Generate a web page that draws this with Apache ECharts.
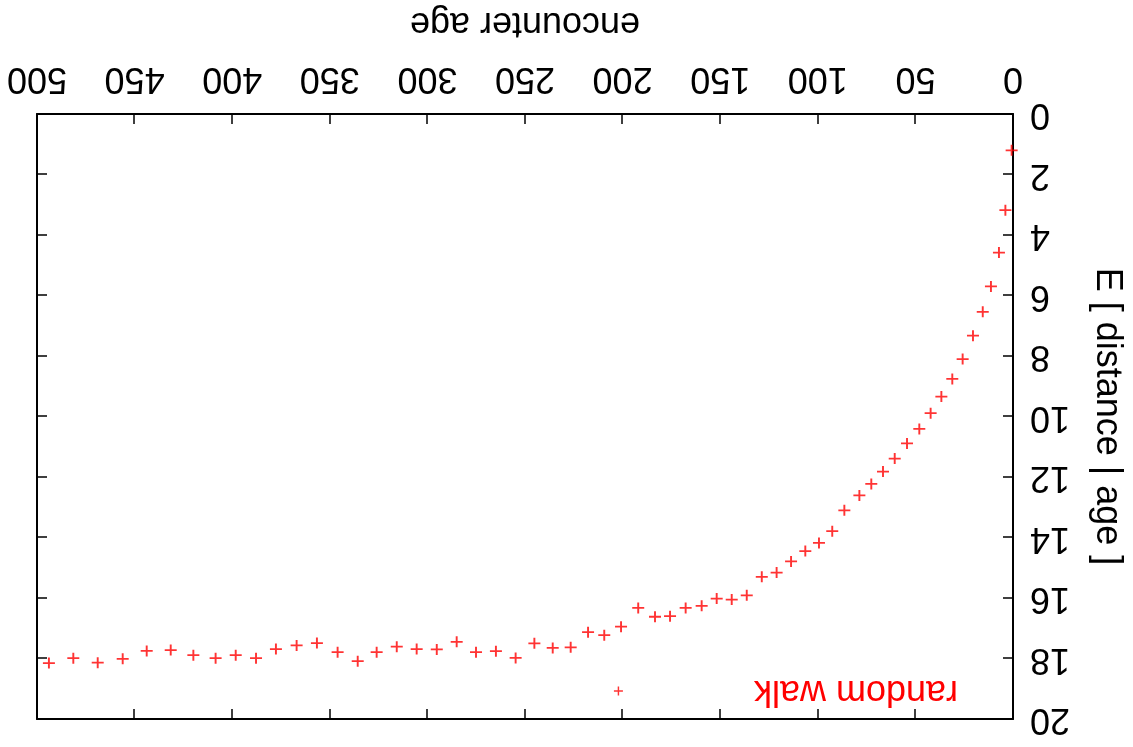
<!DOCTYPE html>
<html>
<head>
<meta charset="utf-8">
<title>random walk</title>
<script src="https://cdn.jsdelivr.net/npm/echarts@6.0.0/dist/echarts.min.js"></script>
<style>
html, body { margin: 0; padding: 0; background: #fff; }
/* the reference picture is upside down, so the whole chart is turned round */
#main { width: 1133px; height: 747px; transform: rotate(180deg); }
</style>
</head>
<body>
<div id="main"></div>
<script>
// encounter age (x) and E[distance | age] (y)
var encounterAge = [0.7, 3.9, 7.2, 11.3, 15.5, 20.5, 25.8, 31.1, 36.7, 42.2,
	48.0, 54.3, 60.6, 66.6, 72.6, 78.7, 86.4, 92.6, 99.4, 106.4,
	113.7, 121.1, 128.7, 136.4, 144.1, 151.8, 159.5, 167.7, 175.7, 183.4,
	192.0, 200.8, 209.4, 217.7, 226.6, 235.8, 245.2, 254.8, 264.9, 275.1,
	285.0, 295.2, 305.5, 315.7, 326.0, 335.7, 346.0, 356.6, 367.0, 377.6,
	387.8, 398.2, 408.5, 419.9, 431.5, 443.8, 456.1, 468.9, 481.4, 493.9];
var meanDistance = [1.20, 3.18, 4.58, 5.70, 6.54, 7.33, 8.10, 8.76, 9.34, 9.89,
	10.41, 10.89, 11.39, 11.82, 12.23, 12.61, 13.10, 13.79, 14.18, 14.45,
	14.79, 15.16, 15.30, 15.91, 16.05, 16.02, 16.26, 16.33, 16.60, 16.62,
	16.33, 16.95, 17.23, 17.13, 17.63, 17.65, 17.50, 17.98, 17.76, 17.79,
	17.45, 17.70, 17.69, 17.61, 17.79, 18.09, 17.79, 17.49, 17.57, 17.69,
	17.99, 17.89, 17.99, 17.89, 17.72, 17.75, 18.01, 18.14, 17.99, 18.15];

var seriesName = 'random walk';
var xRange = [0, 500];
var yRange = [0, 20];

var plusPath = 'path://M0,4.2H10V5.8H0Z M4.2,0H5.8V10H4.2Z';
var fontName = 'Liberation Sans';

var dom = document.getElementById('main');
var myChart = echarts.init(dom);

var points = encounterAge.map(function (a, i) {
	return [a, meanDistance[i]];
});

function frameAxis(pos, range, step, showLabel) {
	return {
		type: 'value',
		position: pos,
		min: range[0],
		max: range[1],
		interval: step,
		axisLine: { show: true, onZero: false, lineStyle: { color: '#000', width: 2 } },
		axisTick: { show: true, inside: true, length: 10, lineStyle: { color: '#000', width: 1.5 } },
		axisLabel: { show: showLabel, color: '#000', fontSize: 36, fontFamily: fontName },
		splitLine: { show: false }
	};
}

var xMain = frameAxis('bottom', xRange, 50, true);
xMain.axisLabel.margin = 18;
xMain.name = 'encounter age';
xMain.nameLocation = 'middle';
xMain.nameGap = 73;
xMain.nameTextStyle = { color: '#000', fontSize: 36, fontFamily: fontName };

var yMain = frameAxis('left', yRange, 2, true);
yMain.axisLabel.margin = 17;
yMain.name = 'E [ distance | age ]';
yMain.nameLocation = 'middle';
yMain.nameGap = 76;
yMain.nameTextStyle = { color: '#000', fontSize: 36, fontFamily: fontName };

option = {
	animation: false,
	backgroundColor: '#fff',
	grid: { left: 120, right: 37, top: 28, bottom: 113 },
	legend: {
		data: [seriesName],
		left: 175,
		top: 38,
		padding: 0,
		align: 'right',
		icon: plusPath,
		itemWidth: 9,
		itemHeight: 9,
		textStyle: { color: '#ff0000', fontSize: 36, fontFamily: fontName, padding: [0, 126, 0, 0] }
	},
	xAxis: [xMain, frameAxis('top', xRange, 50, false)],
	yAxis: [yMain, frameAxis('right', yRange, 2, false)],
	series: [{
		name: seriesName,
		type: 'scatter',
		xAxisIndex: 0,
		yAxisIndex: 0,
		symbol: plusPath,
		symbolSize: [12, 11],
		itemStyle: { color: '#ff0000' },
		data: points
	}]
};
myChart.setOption(option);
</script>
</body>
</html>
